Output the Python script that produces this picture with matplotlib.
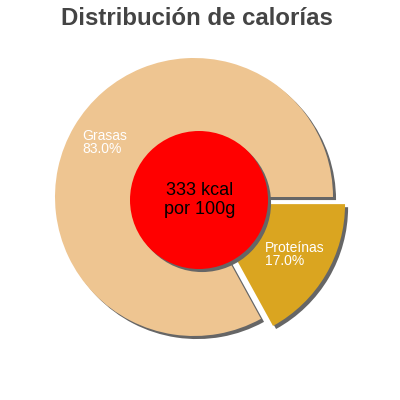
import matplotlib
matplotlib.use('Agg')
import matplotlib.pyplot as plt
import matplotlib.patches as mpatches

labels = ['Grasas', 'Proteínas']
values = [83.0, 17.0]
colors = ['#eec591', '#daa520']
explode = [0, 14]   # pie explode is in data units here
kcal = '333 kcal\npor 100g'
title = 'Distribución de calorías'

plt.rcParams['font.family'] = ['Liberation Sans', 'DejaVu Sans']

fig = plt.figure(figsize=(4, 4), dpi=100)
ax = fig.add_axes([0, 0, 1, 1])

# pixel-like data coords, y going up
R = 139
cx, cy = 194, 203
shadow = {'ox': 2.2, 'oy': -2.2, 'facecolor': '#666666',
          'edgecolor': 'none', 'alpha': 1}
wedges, texts = ax.pie(values, colors=colors, explode=explode, startangle=0,
                       radius=R, center=(cx, cy), shadow=shadow,
                       wedgeprops={'linewidth': 0})
for t in texts:
    t.set_visible(False)

# labels, left aligned like the original
label_pos = [(82, 247), (265, 135)]
for lab, v, (x, y) in zip(labels, values, label_pos):
    ax.text(x, y, '%s\n%.1f%%' % (lab, v), color='white', fontsize=10,
            ha='left', va='baseline', linespacing=0.92)

circ = mpatches.Circle((199, 200), 69, facecolor='#ff0000', edgecolor='none',
                       zorder=5)
ax.add_patch(mpatches.Shadow(circ, 2.2, -2.2, facecolor='#666666',
                             edgecolor='none', alpha=1, zorder=4.9))
ax.add_patch(circ)
ax.text(200, 200, kcal, ha='center', va='center', fontsize=13,
        linespacing=1.1, zorder=6)

ax.text(197, 375, title, ha='center', va='baseline', fontsize=17.3,
        fontweight='bold', color='#444444')

ax.set_xlim(0, 400)
ax.set_ylim(0, 400)
ax.set_aspect('equal')
ax.axis('off')

fig.savefig('out.png', dpi=100)
